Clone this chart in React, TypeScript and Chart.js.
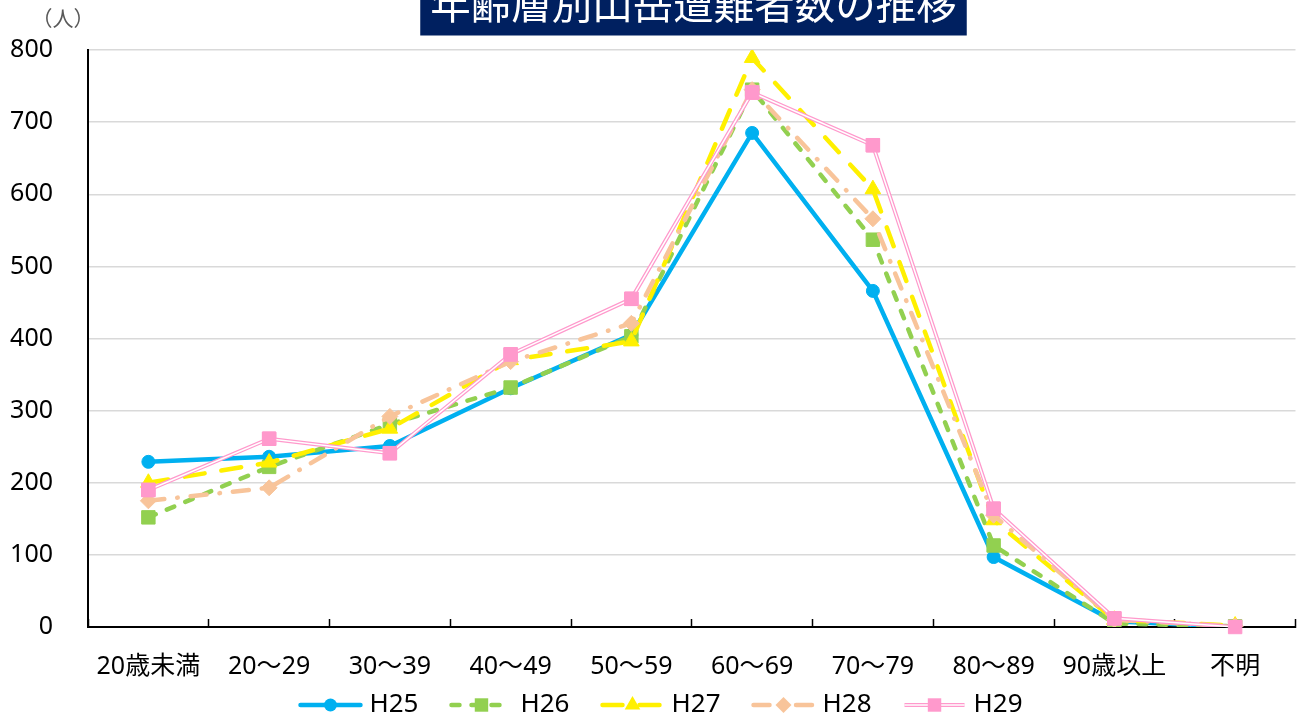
import React, { useEffect, useRef } from 'react';
import { Chart, registerables } from 'chart.js';

Chart.register(...registerables);

// ---- data ----
const categories = ['20歳未満', '20～29', '30～39', '40～49', '50～59', '60～69', '70～79', '80～89', '90歳以上', '不明'];
const seriesNames = ['H25', 'H26', 'H27', 'H28', 'H29'];
const h25 = [229, 236, 251, 331, 405, 685, 466, 97, 8, 0];
const h26 = [152, 222, 281, 332, 403, 745, 537, 113, 5, 1];
const h27 = [200, 228, 275, 370, 396, 789, 607, 148, 10, 2];
const h28 = [175, 193, 292, 368, 421, 745, 566, 155, 10, 1];
const h29 = [190, 261, 241, 378, 455, 741, 668, 164, 12, 0];
const yMin = 0;
const yMax = 800;
const yStep = 100;
const titleText = '年齢層別山岳遭難者数の推移';
const unitText = '（人）';

const FONT = '"Noto Sans", "Noto Sans CJK JP", sans-serif';
const CJK = '"Noto Sans CJK JP", "Noto Sans", sans-serif';

function markerPath(ctx: CanvasRenderingContext2D, style: string, r: number, x: number, y: number) {
  ctx.beginPath();
  if (style === 'circle') {
    ctx.arc(x, y, r, 0, Math.PI * 2);
  } else if (style === 'rect') {
    const s = Math.SQRT1_2 * r;
    ctx.rect(x - s, y - s, 2 * s, 2 * s);
  } else if (style === 'triangle') {
    let rad = 0;
    ctx.moveTo(x + Math.sin(rad) * r, y - Math.cos(rad) * r);
    rad += (2 * Math.PI) / 3;
    ctx.lineTo(x + Math.sin(rad) * r, y - Math.cos(rad) * r);
    rad += (2 * Math.PI) / 3;
    ctx.lineTo(x + Math.sin(rad) * r, y - Math.cos(rad) * r);
  } else if (style === 'rectRot') {
    ctx.moveTo(x - r, y);
    ctx.lineTo(x, y - r);
    ctx.lineTo(x + r, y);
    ctx.lineTo(x, y + r);
  }
  ctx.closePath();
}

const doubleLinePlugin = {
  id: 'doubleLine',
  afterDatasetDraw(chart: any, args: any) {
    const ds: any = chart.data.datasets[args.index];
    if (!ds.innerLineColor) return;
    const meta = args.meta;
    const ctx = chart.ctx;
    ctx.save();
    ctx.beginPath();
    meta.data.forEach((p: any, i: number) => {
      if (i === 0) ctx.moveTo(p.x, p.y);
      else ctx.lineTo(p.x, p.y);
    });
    ctx.strokeStyle = ds.innerLineColor;
    ctx.lineWidth = ds.innerLineWidth;
    ctx.lineJoin = 'miter';
    ctx.stroke();
    meta.data.forEach((p: any) => p.draw(ctx, chart.chartArea));
    ctx.restore();
  },
};

const decorPlugin = {
  id: 'decor',
  afterDraw(chart: any) {
    const ctx: CanvasRenderingContext2D = chart.ctx;
    ctx.save();
    // title box
    const cx = 693.5;
    ctx.font = `40.5px ${CJK}`;
    const tw = ctx.measureText(titleText).width;
    const padX = 10;
    ctx.fillStyle = '#002060';
    ctx.fillRect(cx - tw / 2 - padX, -10, tw + padX * 2, 45.5);
    ctx.fillStyle = '#FFFFFF';
    ctx.textAlign = 'center';
    ctx.textBaseline = 'middle';
    ctx.fillText(titleText, cx, 4);
    // unit label
    ctx.font = `21px ${CJK}`;
    ctx.fillStyle = '#595959';
    ctx.fillText(unitText, 63, 18);

    // legend
    ctx.font = `26px ${FONT}`;
    const symW = 66;
    const gap = 6;
    const itemGap = 30;
    const items = chart.data.datasets.map((ds: any) => ({ ds, tw: ctx.measureText(ds.label).width }));
    const total = items.reduce((a: number, it: any) => a + symW + gap + it.tw, 0) + itemGap * (items.length - 1);
    let x = 660 - total / 2;
    const y = 705;
    items.forEach(({ ds, tw: w }: any) => {
      ctx.save();
      ctx.beginPath();
      ctx.moveTo(x + 3, y);
      ctx.lineTo(x + symW - 3, y);
      ctx.strokeStyle = ds.borderColor;
      ctx.lineWidth = ds.borderWidth;
      ctx.lineCap = ds.borderCapStyle || 'butt';
      ctx.setLineDash(ds.borderDash || []);
      ctx.stroke();
      if (ds.innerLineColor) {
        ctx.beginPath();
        ctx.moveTo(x + 3, y);
        ctx.lineTo(x + symW - 3, y);
        ctx.strokeStyle = ds.innerLineColor;
        ctx.lineWidth = ds.innerLineWidth;
        ctx.stroke();
      }
      ctx.setLineDash([]);
      markerPath(ctx, ds.pointStyle, ds.pointRadius, x + symW / 2, y);
      ctx.fillStyle = ds.pointBackgroundColor;
      ctx.fill();
      ctx.restore();
      ctx.fillStyle = '#000';
      ctx.textAlign = 'left';
      ctx.textBaseline = 'middle';
      ctx.fillText(ds.label, x + symW + gap, y);
      x += symW + gap + w + itemGap;
    });
    ctx.restore();
  },
};

function makeDataset(label: string, data: number[], color: string, opts: any) {
  return {
    label,
    data,
    borderColor: color,
    backgroundColor: color,
    pointBackgroundColor: color,
    pointBorderColor: color,
    pointBorderWidth: 1,
    borderWidth: 4.5,
    tension: 0,
    fill: false,
    ...opts,
  };
}

export default function App() {
  const ref = useRef<HTMLCanvasElement | null>(null);
  useEffect(() => {
    if (!ref.current) return;
    const datasets: any[] = [
      makeDataset(seriesNames[0], h25, '#00B0F0', { pointStyle: 'circle', pointRadius: 6.5, borderCapStyle: 'round', order: 4 }),
      makeDataset(seriesNames[1], h26, '#92D050', { pointStyle: 'rect', pointRadius: 9.5, borderDash: [8, 12], borderCapStyle: 'round', order: 3 }),
      makeDataset(seriesNames[2], h27, '#FFF000', { pointStyle: 'triangle', pointRadius: 9, borderDash: [20, 17], borderCapStyle: 'round', order: 2 }),
      makeDataset(seriesNames[3], h28, '#F8C49A', { pointStyle: 'rectRot', pointRadius: 8, borderDash: [16, 13, 0.5, 13], borderCapStyle: 'round', order: 1 }),
      makeDataset(seriesNames[4], h29, '#FF99CC', { pointStyle: 'rect', pointRadius: 9.5, borderWidth: 4, innerLineColor: '#FFFFFF', innerLineWidth: 1.5, order: 0 }),
    ];
    const chart = new Chart(ref.current, {
      type: 'line',
      data: { labels: categories, datasets },
      options: {
        animation: false,
        responsive: false,
        maintainAspectRatio: false,
        layout: { padding: { left: 0, right: 8, top: 47, bottom: 0 } },
        plugins: { legend: { display: false }, tooltip: { enabled: false }, title: { display: false } },
        scales: {
          x: {
            type: 'category',
            offset: true,
            grid: {
              display: true,
              drawOnChartArea: false,
              drawTicks: true,
              tickLength: -8,
              offset: true,
              color: '#000',
              tickColor: '#000',
              tickWidth: 1.5,
            },
            border: { display: true, color: '#000', width: 2 },
            ticks: { font: { family: FONT, size: 25 }, color: '#000', padding: 33, autoSkip: false, maxRotation: 0, minRotation: 0 },
            afterFit: (s: any) => { s.height = 92; },
          },
          y: {
            min: yMin,
            max: yMax,
            ticks: { stepSize: yStep, font: { family: FONT, size: 25 }, color: '#000', padding: 35 },
            grid: {
              drawTicks: false,
              lineWidth: 1.5,
              color: (c: any) => (c.tick && c.tick.value === 0 ? 'rgba(0,0,0,0)' : '#D9D9D9'),
            },
            border: { display: true, color: '#000', width: 2 },
            afterFit: (s: any) => { s.width = 88; },
          },
        },
      } as any,
      plugins: [doubleLinePlugin, decorPlugin],
    });
    return () => chart.destroy();
  }, []);
  return (
    <div style={{ position: 'fixed', left: 0, top: 0, width: 1306, height: 719, background: '#fff' }}>
      <canvas ref={ref} width={1306} height={719} style={{ display: 'block' }} />
    </div>
  );
}
